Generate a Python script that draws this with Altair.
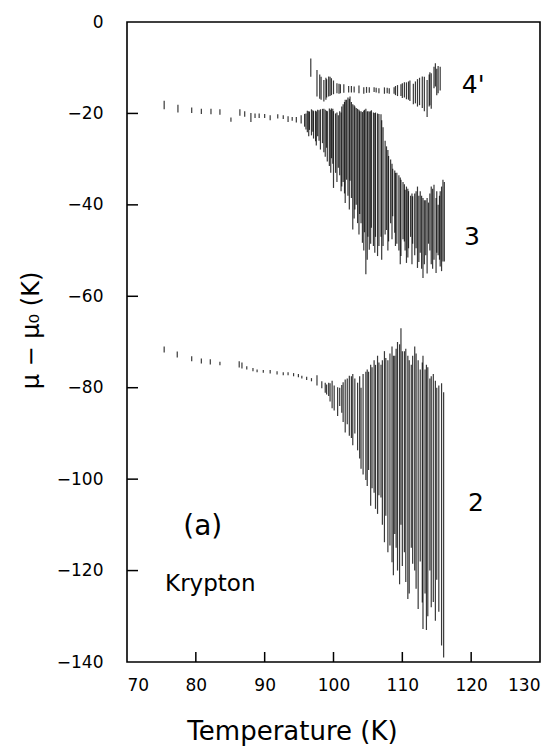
import altair as alt
import pandas as pd

# ---- series 4' (temperature, top, bottom) ----
s4_T = [96.7, 97.6, 98.2, 98.6, 99.0, 99.3, 99.7, 100.0, 100.5, 101.0, 101.5, 102.2,
        103.0, 103.7, 104.4, 105.2, 105.9, 106.6, 107.4, 108.1, 108.8, 109.3, 109.8,
        110.3, 110.6, 111.1, 111.6, 112.2, 112.9, 113.6, 114.0, 114.2, 114.6, 114.8,
        115.2, 115.5,
        98.0, 98.9, 99.5, 100.8, 102.6, 104.8, 106.2, 107.8, 109.0, 110.0, 110.9, 111.9,
        112.5, 113.2, 113.9, 115.0]
s4_hi = [-8.0, -10.5, -12.0, -12.7, -12.5, -11.9, -12.3, -12.8, -13.4, -13.6, -13.6, -14.0,
         -14.1, -13.9, -14.3, -14.3, -14.3, -14.5, -14.3, -14.5, -14.3, -13.8, -13.6,
         -13.2, -13.2, -12.8, -13.5, -12.5, -11.9, -12.7, -11.0, -11.2, -9.8, -9.0,
         -9.6, -9.8,
         -11.5, -12.2, -12.0, -13.5, -14.0, -14.2, -14.4, -14.4, -14.0, -13.4, -13.0, -13.0,
         -12.2, -12.0, -11.5, -10.2]
s4_lo = [-12.0, -16.3, -17.0, -17.4, -16.5, -16.3, -16.0, -15.8, -15.6, -15.6, -15.5, -15.4,
         -15.4, -15.6, -15.7, -15.5, -15.3, -15.6, -15.7, -15.7, -15.7, -16.2, -16.2,
         -16.5, -16.9, -17.3, -18.0, -18.5, -18.8, -20.8, -18.2, -19.0, -14.5, -14.1,
         -15.6, -15.0,
         -16.8, -17.0, -16.2, -15.7, -15.4, -15.5, -15.4, -15.6, -16.0, -16.6, -17.0, -17.8,
         -18.2, -19.5, -18.5, -16.0]

# ---- series 3 ----
s3_T = [75.4, 77.4, 79.4, 80.8, 82.2, 83.5, 85.1, 86.4, 87.1, 88.0, 88.6, 89.2, 90.0,
        90.8, 91.9, 92.7, 93.4, 94.0, 94.6, 95.3, 95.8, 96.2, 96.5, 96.8, 97.1, 97.4,
        97.7, 98.1, 98.4, 98.8, 99.1, 99.4, 99.7, 100.0, 100.3, 100.7, 101.1, 101.4,
        101.7, 101.9, 102.1, 102.4, 102.8, 103.1, 103.5, 103.8, 104.2, 104.5, 104.7,
        105.0, 105.2, 105.5, 105.8, 106.1, 106.4, 106.9, 107.2, 107.5, 107.7, 108.0,
        108.3, 108.6, 108.9, 109.2, 109.5, 109.8, 110.1, 110.4, 110.6, 110.9, 111.2,
        111.5, 111.8, 112.2, 112.6, 113.0, 113.4, 113.8, 114.2, 114.6, 114.9, 115.2,
        115.5, 115.9, 116.1,
        96.0, 96.4, 97.0, 97.5, 97.9, 98.6, 99.0, 99.6, 99.9, 100.5, 100.9, 101.2,
        101.6, 102.3, 102.6, 103.0, 103.3, 103.7, 104.0, 104.4, 104.9, 105.4, 106.0,
        106.6, 107.0, 107.9, 108.5, 109.0, 109.7, 110.3, 110.8, 111.4, 112.0, 112.4,
        112.8, 113.2, 113.6, 114.0, 114.4, 115.0, 115.4, 115.7]
s3_hi = [-17.2, -18.1, -18.7, -19.0, -19.0, -19.1, -20.9, -19.1, -19.5, -19.9, -20.0, -20.0, -20.1,
         -20.4, -20.2, -20.4, -20.6, -20.8, -20.8, -20.4, -20.1, -19.4, -19.6, -19.1, -19.5, -19.4,
         -19.2, -19.1, -19.0, -19.2, -19.5, -18.9, -18.9, -19.5, -20.0, -20.4, -19.8, -18.0,
         -17.0, -17.0, -16.5, -16.3, -18.0, -18.5, -19.0, -19.5, -19.7, -19.2, -19.0,
         -19.5, -19.6, -19.3, -19.8, -19.8, -20.0, -20.2, -23.0, -26.0, -27.2, -29.3,
         -30.1, -32.1, -32.5, -33.0, -33.5, -34.5, -35.0, -36.7, -36.0, -37.0, -38.0,
         -38.1, -37.5, -36.0, -37.0, -38.5, -39.0, -39.5, -36.0, -35.6, -38.5, -40.0,
         -37.0, -34.5, -35.0,
         -20.0, -19.5, -19.3, -19.6, -19.3, -19.0, -19.4, -19.2, -19.0, -19.8, -19.5, -18.5,
         -17.5, -16.8, -17.5, -18.2, -18.8, -19.2, -19.5, -19.4, -19.6, -19.5, -19.9,
         -20.1, -21.5, -28.0, -31.0, -33.0, -34.0, -35.5, -36.5, -37.5, -37.0, -38.0,
         -38.0, -39.0, -38.5, -37.5, -36.5, -37.0, -38.0, -36.0]
s3_lo = [-19.1, -19.8, -19.9, -20.1, -20.2, -20.3, -21.8, -20.5, -20.7, -21.9, -21.0, -21.0, -21.0,
         -21.5, -21.1, -21.2, -21.9, -21.6, -22.0, -22.2, -22.9, -24.1, -23.6, -24.8, -25.5, -26.1,
         -25.0, -27.9, -26.5, -29.5, -30.5, -31.5, -29.8, -36.3, -33.0, -31.9, -37.0, -35.0,
         -39.6, -34.5, -38.0, -34.7, -45.4, -41.0, -44.0, -42.0, -48.3, -46.0, -55.2,
         -47.0, -49.8, -45.0, -49.0, -47.0, -51.2, -47.0, -49.0, -46.5, -45.5, -48.0,
         -44.0, -42.5, -46.1, -48.5, -50.0, -51.2, -47.5, -50.0, -52.7, -49.5, -47.0,
         -48.5, -51.0, -53.8, -50.5, -56.0, -51.0, -48.5, -53.0, -52.0, -54.9, -51.0,
         -53.5, -52.4, -52.4,
         -23.5, -25.0, -24.0, -27.0, -26.0, -28.5, -27.5, -33.0, -31.0, -35.0, -33.5, -36.0,
         -37.5, -41.0, -38.5, -43.0, -40.0, -46.5, -44.0, -50.0, -52.0, -48.5, -50.5,
         -49.0, -52.0, -50.0, -47.5, -49.0, -53.0, -48.0, -51.5, -53.0, -49.5, -52.5,
         -54.0, -53.0, -55.0, -50.0, -54.0, -50.5, -52.0, -54.5]

# ---- series 2 ----
s2_T = [75.4, 77.3, 79.4, 80.8, 82.1, 83.5, 86.3, 86.7, 87.4, 88.3, 88.9, 89.8, 90.8,
        91.8, 92.7, 93.4, 94.2, 94.9, 95.4, 96.1, 96.8, 97.6, 98.3, 98.8, 99.0, 99.3,
        99.8, 100.6, 101.2, 101.7, 102.3, 102.8, 103.5, 104.0, 104.7, 104.9, 105.4,
        105.9, 106.4, 106.9, 107.4, 107.9, 108.5, 108.9, 109.3, 109.8, 110.3, 110.8,
        111.3, 111.8, 112.3, 112.6, 113.0, 113.5, 114.0, 114.5, 115.0, 115.7, 116.0,
        99.5, 100.1, 100.9, 101.4, 102.0, 102.6, 103.1, 103.8, 104.3, 105.1, 105.6,
        106.1, 106.6, 107.1, 107.6, 108.2, 108.7, 109.1, 109.6, 110.0, 110.5, 111.0,
        111.5, 112.0, 112.9, 113.3, 113.7, 114.2, 114.8, 115.3]
s2_hi = [-71.0, -72.1, -73.1, -73.6, -73.8, -74.3, -74.2, -74.5, -75.3, -75.7, -76.0, -76.1, -76.1,
         -76.4, -76.6, -76.6, -76.8, -77.0, -77.4, -77.6, -77.9, -77.3, -78.6, -78.9, -79.3, -78.9,
         -78.5, -79.9, -79.4, -78.2, -77.4, -77.0, -78.9, -80.0, -76.5, -76.0, -75.0,
         -74.0, -73.0, -75.0, -72.0, -74.0, -71.0, -73.0, -70.0, -67.0, -72.0, -73.0,
         -75.0, -71.0, -74.0, -76.0, -73.0, -75.0, -78.0, -77.0, -80.0, -79.0, -81.0,
         -79.0, -79.5, -80.0, -78.8, -78.0, -77.5, -78.0, -77.5, -77.0, -76.5, -75.5,
         -75.0, -74.5, -74.0, -73.5, -72.5, -73.0, -71.5, -70.5, -72.0, -71.5, -74.0,
         -73.0, -72.5, -74.5, -76.0, -75.5, -77.5, -78.5, -79.5]
s2_lo = [-72.3, -73.4, -74.2, -74.7, -74.9, -75.1, -75.6, -75.8, -76.0, -76.4, -76.6, -76.7, -76.9,
         -77.1, -77.3, -77.3, -77.5, -77.7, -78.0, -78.3, -78.6, -79.5, -80.1, -81.1, -81.5, -81.8,
         -84.5, -86.2, -85.5, -89.8, -90.5, -92.6, -93.7, -97.7, -100.2, -101.5, -105.8,
         -103.0, -107.6, -104.0, -113.8, -116.0, -118.2, -112.0, -120.0, -110.0, -116.0, -126.2,
         -115.0, -120.0, -128.4, -118.0, -132.8, -133.0, -120.0, -126.9, -122.0, -136.4, -139.0,
         -83.0, -85.0, -84.0, -87.5, -88.0, -91.0, -90.0, -95.5, -99.0, -98.0, -102.0,
         -106.5, -103.5, -110.0, -108.0, -114.5, -121.0, -115.0, -123.0, -119.0, -122.5, -125.0,
         -118.5, -124.0, -127.0, -125.0, -130.0, -128.0, -131.0, -129.0]

x_ticks = [80, 90, 100, 110, 120]
y_ticks = [-20, -40, -60, -80, -100, -120]
x_labels = [70, 80, 90, 100, 110, 120, 130]
y_labels = [0, -20, -40, -60, -80, -100, -120, -140]

curve_labels = ["4'", "3", "2"]
curve_label_T = [120.3, 120.1, 120.7]
curve_label_v = [-13.8, -47.0, -105.2]

W, H = 413, 640
FONT = "DejaVu Sans"

df = pd.concat([
    pd.DataFrame({"T": s4_T, "hi": s4_hi, "lo": s4_lo, "series": "4'"}),
    pd.DataFrame({"T": s3_T, "hi": s3_hi, "lo": s3_lo, "series": "3"}),
    pd.DataFrame({"T": s2_T, "hi": s2_hi, "lo": s2_lo, "series": "2"}),
], ignore_index=True)

xscale = alt.Scale(domain=[70, 130], nice=False, zero=False)
yscale = alt.Scale(domain=[-140, 0], nice=False, zero=False)

xaxis = alt.Axis(values=x_labels, ticks=False, tickSize=0, domain=False, grid=False,
                 labelFont=FONT, labelFontSize=17, labelColor="black", labelPadding=15,
                 titleFont=FONT, titleFontSize=26,
                 titleFontWeight="normal", titleColor="black",
                 titleX=165, titleY=69, titleBaseline="middle", titleAlign="center")
yaxis = alt.Axis(values=y_labels, ticks=False, tickSize=0, domain=False, grid=False,
                 labelFont=FONT, labelFontSize=17, labelColor="black", labelPadding=24,
                 titleFont=FONT, titleFontSize=24,
                 titleFontWeight="normal", titleColor="black", titleAngle=270,
                 titleX=-96, titleY=308, titleBaseline="middle", titleAlign="center")
XT = "Temperature (K)"
YT = "μ − μ₀  (K)"

bars = alt.Chart(df).mark_rule(color="#000000", strokeWidth=1.2, opacity=0.78).encode(
    x=alt.X("T:Q", scale=xscale, axis=xaxis, title=XT),
    y=alt.Y("hi:Q", scale=yscale, axis=yaxis, title=YT),
    y2="lo:Q",
)

xt = alt.Chart(pd.DataFrame({"t": x_ticks})).mark_rule(color="black", strokeWidth=1.5).encode(
    x=alt.X("t:Q", scale=xscale, axis=xaxis, title=XT),
    y=alt.value(H), y2=alt.value(H - 10))

yt = alt.Chart(pd.DataFrame({"t": y_ticks})).mark_rule(color="black", strokeWidth=1.5).encode(
    y=alt.Y("t:Q", scale=yscale, axis=yaxis, title=YT),
    x=alt.value(0), x2=alt.value(11))

def text_layer(T, v, txt, size):
    return alt.Chart(pd.DataFrame({"T": T, "v": v, "txt": txt})).mark_text(
        font=FONT, fontSize=size, color="black", align="center", baseline="middle").encode(
        x=alt.X("T:Q", scale=xscale, axis=xaxis, title=XT),
        y=alt.Y("v:Q", scale=yscale, axis=yaxis, title=YT),
        text="txt:N")

lab = text_layer(curve_label_T, curve_label_v, curve_labels, 25)
a_lab = text_layer([81.0], [-110.5], ["(a)"], 28)
k_lab = text_layer([82.1], [-123.0], ["Krypton"], 23)

chart = alt.layer(bars, xt, yt, lab, a_lab, k_lab).properties(
    width=W, height=H,
    autosize=alt.AutoSizeParams(type="none"),
    padding={"left": 127, "top": 22, "right": 20, "bottom": 86},
    background="white",
).configure_view(stroke="black", strokeWidth=1.6)

chart.save("out.html", embed_options={"renderer": "svg", "actions": False})
